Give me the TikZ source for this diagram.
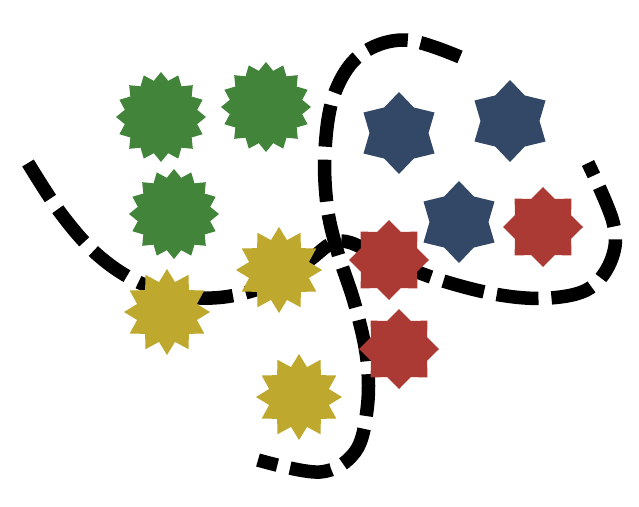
\documentclass[tikz,border=0pt]{standalone}
\usepackage{tikz}
\usetikzlibrary{shapes.geometric}

\definecolor{leafgreen}{RGB}{65,132,58}
\definecolor{mustard}{RGB}{191,168,46}
\definecolor{slateblue}{RGB}{50,72,102}
\definecolor{brickred}{RGB}{172,58,52}

\tikzset{
    starbase/.style={star, draw=none, inner sep=0pt},
    greenburst/.style={starbase, fill=leafgreen, star points=16, star point ratio=1.22, minimum size=90pt},
    yellowburst/.style={starbase, fill=mustard, star points=12, star point ratio=1.39, minimum size=86pt},
    bluestar/.style={starbase, fill=slateblue, star points=6, star point ratio=1.39, minimum size=82pt},
    redstar/.style={starbase, fill=brickred, star points=8, star point ratio=1.31, minimum size=80pt},
    border/.style={line width=13.5pt, dash pattern=on 42pt off 13pt}
}

\begin{document}
\begin{tikzpicture}[x=1pt, y=-1pt]
    \useasboundingbox (0,0) rectangle (639,506);

    % boundaries
    \draw[border] plot[smooth, tension=0.6] coordinates {
        (28,163) (62,215) (100,257) (145,285) (200,298) (255,290) (305,263)
        (340,241) (385,259) (440,280) (500,295) (550,298) (590,288)
        (612,258) (613,222) (588,163)};
    \draw[border] plot[smooth, tension=0.6] coordinates {
        (460,57) (405,40) (360,55) (334,95) (325,150) (327,205) (337,250)
        (355,305) (367,360) (367,410) (355,452) (320,472) (258,460)};

    % green
    \node[greenburst] (g1) at (161,117) {};
    \node[greenburst] (g2) at (266,107) {};
    \node[greenburst] (g3) at (174,214) {};

    % yellow
    \node[yellowburst] (y1) at (167,312) {};
    \node[yellowburst] (y2) at (279,270) {};
    \node[yellowburst] (y3) at (299,397) {};

    % blue
    \node[bluestar] (b1) at (399,133) {};
    \node[bluestar] (b2) at (510,121) {};
    \node[bluestar] (b3) at (459,222) {};

    % red
    \node[redstar] (r1) at (389,260) {};
    \node[redstar] (r2) at (399,349) {};
    \node[redstar] (r3) at (543,227) {};
\end{tikzpicture}
\end{document}
